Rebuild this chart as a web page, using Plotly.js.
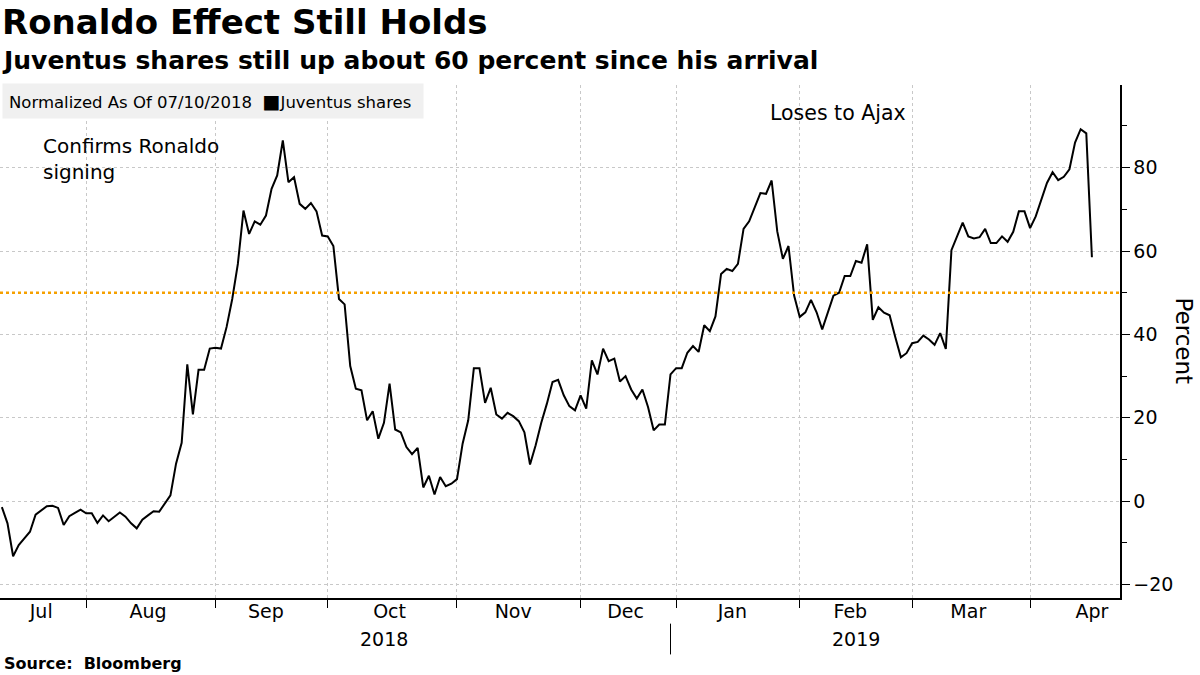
<!DOCTYPE html>
<html>
<head>
<meta charset="utf-8">
<script src="https://cdn.plot.ly/plotly-3.0.1.min.js"></script>
<style>
  body { margin: 0; background: #fff; }
  #chart { width: 1200px; height: 675px; }
</style>
</head>
<body>
<div id="chart"></div>
<script>
// Juventus shares, percent change normalized to 07/10/2018, one value per trading day
const firstDay = "2018-07-11";
const holidays = ["2018-12-24", "2018-12-25", "2018-12-26", "2018-12-31", "2019-01-01"];
const juveValues = [
  -1.4, -5.3, -13.2, -10.5, -8.9, -7.3, -3.2, -2.3, -1.2, -1.1,
  -1.6, -5.7, -3.6, -2.8, -2.0, -2.9, -2.9, -5.2, -3.4, -4.8,
  -3.8, -2.7, -3.7, -5.3, -6.5, -4.4, -3.4, -2.4, -2.5, -0.6,
  1.4, 9.0, 14.0, 32.8, 20.8, 31.5, 31.5, 36.6, 36.8, 36.6,
  41.8, 48.5, 56.9, 69.7, 64.1, 67.1, 66.3, 68.5, 74.9, 78.1,
  86.5, 76.5, 77.7, 71.3,
  70.1, 71.5, 69.5, 63.7, 63.5, 61.2, 48.5, 47.2, 32.4, 27.0,
  26.6, 19.4, 21.6, 15.0, 18.8, 28.2, 17.2, 16.5, 13.0, 11.3,
  12.8, 3.3, 6.1, 1.6, 5.8, 3.6, 4.2, 5.3, 13.8, 19.4,
  31.9, 31.9, 23.6, 27.2, 20.8, 19.8, 21.2, 20.4, 19.2, 16.5,
  8.8, 13.4, 18.8, 23.4, 28.6, 29.1, 25.4, 22.8, 21.8, 25.4,
  22.2, 33.8, 30.4,
  36.6, 33.6, 34.2, 28.7, 30.0, 26.8, 24.6, 26.8, 22.6, 17.0,
  18.4, 18.4, 30.4, 31.9, 31.9, 35.6, 37.2, 35.8, 42.2, 40.8,
  44.3, 54.5, 55.7, 55.2, 56.9, 65.3, 67.1, 70.7, 73.9, 73.7,
  76.9, 64.7, 58.1, 61.2, 49.3, 44.2, 45.3, 48.3, 45.3, 41.2,
  45.3, 49.3, 50.0, 54.0, 54.0, 57.6, 57.2, 61.6, 43.5, 46.5,
  45.2, 44.6, 39.4,
  34.5, 35.5, 37.9, 38.2, 39.7, 38.8, 37.5, 40.3, 36.5, 60.2,
  63.7, 66.8, 63.5, 63.0, 63.3, 65.3, 61.9, 61.9, 63.5, 62.2,
  64.6, 69.5, 69.5, 65.5, 68.3, 72.5, 76.3, 78.9, 77.0, 77.8,
  79.6, 86.0, 89.2, 88.2, 58.5
];
const referenceLevel = 50;
const monthLabelDates = ["2018-07-20", "2018-08-16", "2018-09-14", "2018-10-16", "2018-11-15",
  "2018-12-13", "2019-01-16", "2019-02-14", "2019-03-15", "2019-04-16"];
const monthLabels = ["Jul", "Aug", "Sep", "Oct", "Nov", "Dec", "Jan", "Feb", "Mar", "Apr"];
const yearLabels = [["2018-10-15", "2018"], ["2019-02-15", "2019"]];

// trading days: weekdays minus exchange holidays
const tradingDays = (start, n) => {
  let out = [];
  let d = new Date(start + "T00:00:00Z");
  while (out.length < n) {
    let iso = d.toISOString().slice(0, 10);
    let wd = d.getUTCDay();
    if (wd !== 0 && wd !== 6 && holidays.indexOf(iso) < 0) out.push(iso);
    d.setUTCDate(d.getUTCDate() + 1);
  }
  return out;
};
const dates = tradingDays(firstDay, juveValues.length);

const font = "DejaVu Sans, sans-serif";
const xRange = ["2018-07-10 16:00", "2019-04-23"];
const breaks = [{ bounds: ["sat", "mon"] }, { values: holidays }];

let trace = {
  x: dates,
  y: juveValues,
  type: "scatter",
  mode: "lines",
  line: { color: "#000", width: 2 },
  hoverinfo: "none",
};

let annotations = [
  { xref: "paper", yref: "paper", x: 0.037, y: 0.855, xanchor: "left", yanchor: "middle",
    text: "Confirms Ronaldo<br>signing", showarrow: false, align: "left",
    font: { family: font, size: 20, color: "#000" } },
  { xref: "paper", yref: "paper", x: 0.686, y: 0.945, xanchor: "left", yanchor: "middle",
    text: "Loses to Ajax", showarrow: false,
    font: { family: font, size: 20.5, color: "#000" } },
  { xref: "paper", yref: "paper", x: 0.002, y: 0.968, xanchor: "left", yanchor: "middle",
    text: "Normalized As Of 07/10/2018 &nbsp;<span style='font-size:19px'>■</span>Juventus shares&nbsp;",
    showarrow: false, bgcolor: "#f0f0f0", borderpad: 6,
    font: { family: font, size: 16.5, color: "#000" } },
  { xref: "paper", yref: "paper", x: 1.058, y: 0.5, xanchor: "center", yanchor: "middle",
    text: "Percent", textangle: 90, showarrow: false,
    font: { family: font, size: 23, color: "#000" } },
];
yearLabels.forEach(([d, t]) => {
  annotations.push({ x: d, xref: "x", yref: "paper", y: -0.08, yanchor: "middle",
    text: t, showarrow: false, font: { family: font, size: 19, color: "#000" } });
});

let layout = {
  width: 1200,
  height: 675,
  margin: { l: 0, r: 80, t: 85, b: 77 },
  paper_bgcolor: "#fff",
  plot_bgcolor: "#fff",
  showlegend: false,
  xaxis: {
    type: "date",
    range: xRange,
    rangebreaks: breaks,
    dtick: "M1",
    tick0: "2018-07-01",
    showticklabels: false,
    ticks: "outside",
    ticklen: 8,
    tickcolor: "#000",
    showline: true,
    linecolor: "#000",
    linewidth: 1.5,
    showgrid: true,
    gridcolor: "#c8c8c8",
    griddash: "dot",
    zeroline: false,
  },
  xaxis2: {
    type: "date",
    overlaying: "x",
    matches: "x",
    range: xRange,
    rangebreaks: breaks,
    side: "bottom",
    tickmode: "array",
    tickvals: monthLabelDates,
    ticktext: monthLabels,
    ticks: "",
    showgrid: false,
    showline: false,
    zeroline: false,
    tickfont: { family: font, size: 19, color: "#000" },
  },
  yaxis: {
    side: "right",
    range: [-23.2, 99.8],
    dtick: 20,
    ticks: "outside",
    ticklen: 8,
    tickcolor: "#000",
    minor: { dtick: 10, ticks: "outside", ticklen: 5, tickcolor: "#000", showgrid: false },
    showline: true,
    linecolor: "#000",
    linewidth: 1.5,
    showgrid: true,
    gridcolor: "#c8c8c8",
    griddash: "dot",
    zeroline: false,
    tickfont: { family: font, size: 19, color: "#000" },
  },
  shapes: [
    { type: "line", xref: "paper", yref: "y", x0: 0, x1: 1, y0: referenceLevel, y1: referenceLevel,
      line: { color: "#f5a000", width: 2.5, dash: "dot" } },
    { type: "line", xref: "x", yref: "paper", x0: "2018-12-28", x1: "2018-12-28", y0: -0.05, y1: -0.11,
      line: { color: "#000", width: 1 } },
  ],
  annotations: annotations.concat([
    { xref: "paper", yref: "paper", x: 0, xanchor: "left", y: 1.122, yanchor: "middle",
      text: "<b>Ronaldo Effect Still Holds</b>", showarrow: false,
      font: { family: font, size: 34, color: "#000" } },
    { xref: "paper", yref: "paper", x: 0, xanchor: "left", y: 1.048, yanchor: "middle",
      text: "<b>Juventus shares still up about 60 percent since his arrival</b>", showarrow: false,
      font: { family: font, size: 25, color: "#000" } },
    { xref: "paper", yref: "paper", x: 0.002, xanchor: "left", y: -0.127, yanchor: "middle",
      text: "<b>Source:  Bloomberg</b>", showarrow: false,
      font: { family: font, size: 16, color: "#000" } },
  ]),
};

let labelTrace = { x: dates, y: juveValues, xaxis: "x2", type: "scatter", mode: "none", hoverinfo: "none" };

Plotly.newPlot("chart", [trace, labelTrace], layout, { staticPlot: true });
</script>
</body>
</html>
